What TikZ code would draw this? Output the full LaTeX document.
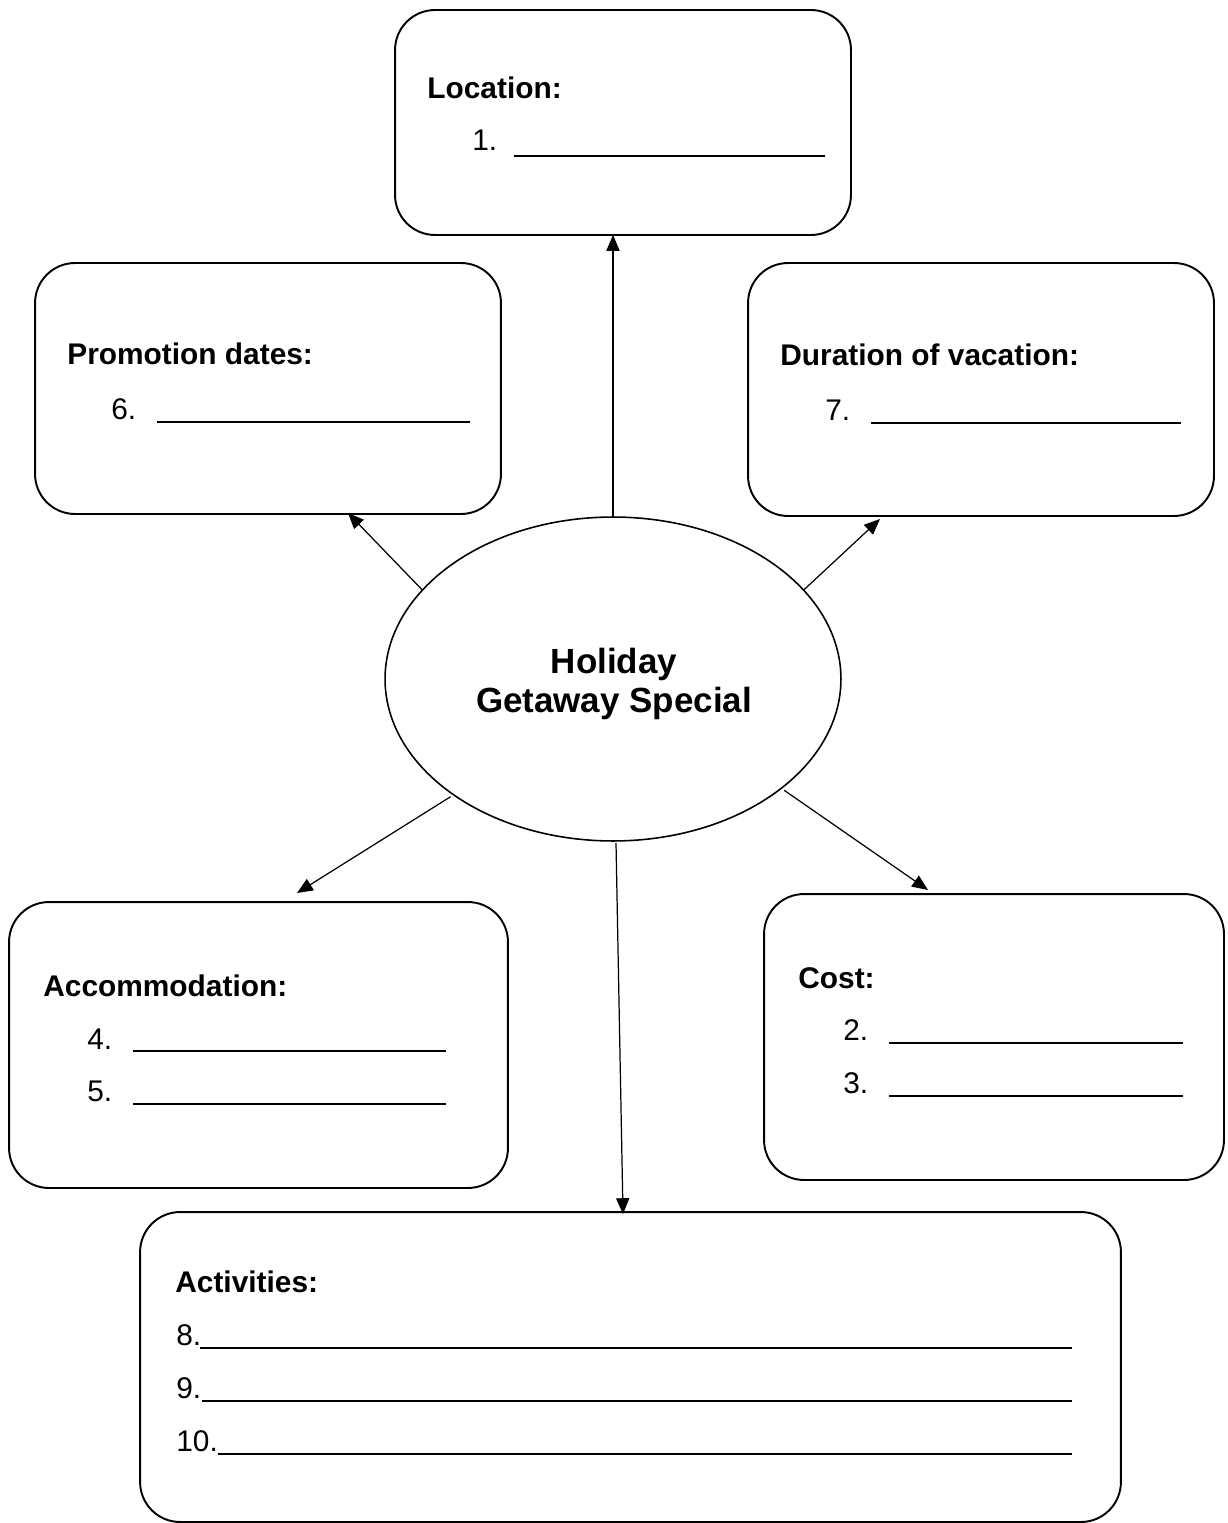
\documentclass[tikz,border=0pt]{standalone}
\usepackage{fontspec}
\setmainfont{Liberation Sans}
\usetikzlibrary{shapes.geometric,arrows.meta,calc}
\begin{document}
\begin{tikzpicture}[x=0.02cm,y=-0.02cm,
  box/.style={draw, line width=1.1pt, rounded corners=0.8cm, inner sep=0pt, outer sep=0pt},
  hub/.style={draw, ellipse, line width=0.9pt, inner sep=0pt, outer sep=0pt, minimum width=9.12cm, minimum height=6.48cm},
  hubtext/.style={align=center, inner sep=0pt, font=\fontsize{19.9}{22.1}\selectfont\bfseries},
  head/.style={anchor=base west, inner sep=0pt, font=\fontsize{17}{20}\selectfont\bfseries},
  num/.style={anchor=base west, inner sep=0pt, font=\fontsize{17}{20}\selectfont},
  blank/.style={line width=0.9pt},
  arr/.style={line width=0.7pt, -{Triangle[length=9pt,width=7.5pt]}}
]
\useasboundingbox (0,0) rectangle (1227,1523);

% boxes
\node[box, minimum width=9.12cm, minimum height=4.5cm] (loc) at (623,122.5) {};
\node[box, minimum width=9.32cm, minimum height=5.02cm] (promo) at (268,388.5) {};
\node[box, minimum width=9.32cm, minimum height=5.06cm] (dur) at (981,389.5) {};
\node[box, minimum width=9.98cm, minimum height=5.72cm] (acc) at (258.5,1045) {};
\node[box, minimum width=9.2cm, minimum height=5.72cm] (cost) at (994,1037) {};
\node[box, minimum width=19.62cm, minimum height=6.2cm] (act) at (630.5,1367) {};

% hub
\node[hub] (ell) at (613,679) {};
\node[hubtext] (hubT) at (614,684) {Holiday\\Getaway Special};

% Location
\node[head] (locT) at (427,99) {Location:};
\node[num] (locN1) at (472,151) {1.};
\draw[blank] (514,156) -- (825,156);

% Promotion
\node[head] (promoT) at (67,365) {Promotion dates:};
\node[num] (promoN6) at (111,419) {6.};
\draw[blank] (157,422) -- (470,422);

% Duration
\node[head] (durT) at (780,366) {Duration of vacation:};
\node[num] (durN7) at (825,420) {7.};
\draw[blank] (871,423) -- (1181,423);

% Accommodation
\node[head] (accT) at (43,996) {Accommodation:};
\node[num] (accN4) at (87,1049) {4.};
\draw[blank] (133,1051) -- (446,1051);
\node[num] (accN5) at (87,1101) {5.};
\draw[blank] (133,1104) -- (446,1104);

% Cost
\node[head] (costT) at (798,988) {Cost:};
\node[num] (costN2) at (843,1040) {2.};
\draw[blank] (889,1043) -- (1183,1043);
\node[num] (costN3) at (843,1093) {3.};
\draw[blank] (889,1096) -- (1183,1096);

% Activities
\node[head] (actT) at (175,1292) {Activities:};
\node[num] (actN8) at (176,1345) {8.};
\draw[blank] (200,1348) -- (1072,1348);
\node[num] (actN9) at (176,1398) {9.};
\draw[blank] (202,1401) -- (1072,1401);
\node[num] (actN10) at (176,1451) {10.};
\draw[blank] (218,1454) -- (1072,1454);

% arrow targets
\coordinate (tpromo) at (348,513);
\coordinate (tdur) at (880,519);
\coordinate (tacc) at (297,893);
\coordinate (tcost) at (928,890);
\coordinate (tact) at (623,1214);

% connectors
\draw[arr] (ell.north) -- (ell.north |- loc.south);
\draw[arr] (ell.155) -- (tpromo);
\draw[arr] (ell.25) -- (tdur);
\draw[arr, shorten <=2pt] (ell.216) -- (tacc);
\draw[arr, shorten <=2pt] (ell.-33.5) -- (tcost);
\draw[arr] ($(ell.south)+(3,2)$) -- (tact);
\end{tikzpicture}
\end{document}
